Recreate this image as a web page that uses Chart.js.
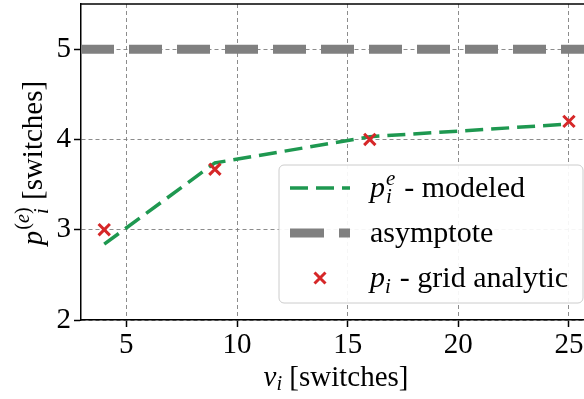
<!DOCTYPE html>
<html>
<head>
<meta charset="utf-8">
<script src="https://cdn.jsdelivr.net/npm/chart.js@4/dist/chart.umd.min.js"></script>
<style>
  html, body { margin: 0; padding: 0; background: #fff; overflow: hidden; }
  #wrap { width: 584px; height: 399px; }
</style>
</head>
<body>
<div id="wrap"><canvas id="chart" width="584" height="399"></canvas></div>
<script>
// data
const vValues = [4, 9, 16, 25];
const modeledValues = [2.84, 3.74, 4.03, 4.17];
const analyticValues = [3.0, 3.67, 4.0, 4.2];
const asymptoteValue = 5;
const xTicks = [5, 10, 15, 20, 25];
const yTicks = [2, 3, 4, 5];

const X_MIN = 2.95, X_MAX = 25.68;
const Y_MIN = 2, Y_MAX = 5.5;

const GREEN = 'rgb(30, 152, 80)';
const GREY = '#808080';
const RED = '#d62728';
const FONT = '"Liberation Serif", "Times New Roman", serif';
const TICK_SIZE = 29;
const LABEL_SIZE = 29;
const LEGEND_SIZE = 30;

// draws a string made of runs (italic / sub / superscript) like mathtext
function drawMath(ctx, parts, x, y, size, align) {
    let lastStart = 0, lastEnd = 0, total = 0;
    const placed = parts.map(p => {
        const sc = p.sc || 1;
        ctx.font = (p.it ? 'italic ' : '') + (size * sc) + 'px ' + FONT;
        const w = ctx.measureText(p.t).width;
        let start;
        if (p.stack) {
            start = lastStart;
            lastEnd = Math.max(lastEnd, start + w);
        } else {
            start = lastEnd + (p.kern || 0) * size;
            lastStart = start;
            lastEnd = start + w;
        }
        total = Math.max(total, lastEnd);
        return { p, start, font: ctx.font };
    });
    const x0 = align === 'center' ? x - total / 2 : x;
    ctx.textAlign = 'left';
    ctx.textBaseline = 'alphabetic';
    ctx.fillStyle = '#000';
    placed.forEach(item => {
        ctx.font = item.font;
        ctx.fillText(item.p.t, x0 + item.start, y + (item.p.dy || 0) * size);
    });
}

const labelsPlugin = {
    id: 'labels',
    afterDraw(chart) {
        const ctx = chart.ctx;
        const area = chart.chartArea;
        ctx.save();

        // top spine
        ctx.strokeStyle = '#000';
        ctx.lineWidth = 1.5;
        ctx.beginPath();
        ctx.moveTo(area.left, area.top);
        ctx.lineTo(area.right, area.top);
        ctx.stroke();

        // x axis title
        drawMath(ctx, [
            { t: 'v', it: true },
            { t: 'i', it: true, sc: 0.7, dy: 0.15 },
            { t: ' [switches]' }
        ], 336, 386, LABEL_SIZE, 'center');

        // y axis title (rotated)
        ctx.save();
        ctx.translate(42, (area.top + area.bottom) / 2 + 1);
        ctx.rotate(-Math.PI / 2);
        drawMath(ctx, [
            { t: 'p', it: true },
            { t: '(', sc: 0.7, dy: -0.45, kern: 0.03 },
            { t: 'e', it: true, sc: 0.7, dy: -0.45 },
            { t: ')', sc: 0.7, dy: -0.45 },
            { t: 'i', it: true, sc: 0.7, dy: 0.2, stack: true },
            { t: ' [switches]' }
        ], 0, 0, LABEL_SIZE, 'center');
        ctx.restore();

        // legend
        const bx = 279, by = 165, bw = 304, bh = 138;
        ctx.beginPath();
        ctx.roundRect(bx, by, bw, bh, 5);
        ctx.fillStyle = 'rgba(255,255,255,0.92)';
        ctx.fill();
        ctx.strokeStyle = '#cccccc';
        ctx.lineWidth = 1;
        ctx.stroke();

        const rows = [197, 242, 287];
        // green dashed sample
        ctx.setLineDash([18, 8]);
        ctx.strokeStyle = GREEN;
        ctx.lineWidth = 3.5;
        ctx.beginPath();
        ctx.moveTo(290, rows[0] - 9);
        ctx.lineTo(350, rows[0] - 9);
        ctx.stroke();
        // grey asymptote sample
        ctx.setLineDash([34, 15]);
        ctx.strokeStyle = GREY;
        ctx.lineWidth = 9;
        ctx.beginPath();
        ctx.moveTo(290, rows[1] - 9);
        ctx.lineTo(350, rows[1] - 9);
        ctx.stroke();
        ctx.setLineDash([]);
        // red cross sample
        ctx.strokeStyle = RED;
        ctx.lineWidth = 3;
        const cx = 320, cy = rows[2] - 9, r = 5.5;
        ctx.beginPath();
        ctx.moveTo(cx - r, cy - r); ctx.lineTo(cx + r, cy + r);
        ctx.moveTo(cx + r, cy - r); ctx.lineTo(cx - r, cy + r);
        ctx.stroke();

        drawMath(ctx, [
            { t: 'p', it: true },
            { t: 'e', it: true, sc: 0.7, dy: -0.4, kern: 0.03 },
            { t: 'i', it: true, sc: 0.7, dy: 0.2, stack: true },
            { t: ' - modeled', kern: 0.05 }
        ], 370, rows[0], LEGEND_SIZE, 'left');
        drawMath(ctx, [{ t: 'asymptote' }], 370, rows[1], LEGEND_SIZE, 'left');
        drawMath(ctx, [
            { t: 'p', it: true },
            { t: 'i', it: true, sc: 0.7, dy: 0.2 },
            { t: ' - grid analytic', kern: 0.05 }
        ], 370, rows[2], LEGEND_SIZE, 'left');

        ctx.restore();
    }
};

const gridOpts = {
    color: 'rgba(128,128,128,0.9)',
    lineWidth: 1,
    tickColor: '#000',
    tickWidth: 1.5,
    tickLength: 7,
    tickBorderDash: []
};

const config = {
    type: 'line',
    data: {
        datasets: [
            {
                label: 'p_i - grid analytic',
                data: vValues.map((v, i) => ({ x: v, y: analyticValues[i] })),
                showLine: false,
                pointStyle: 'crossRot',
                pointRadius: 8,
                pointBorderWidth: 3,
                borderColor: RED,
                backgroundColor: RED,
                order: 0
            },
            {
                label: 'p_i^e - modeled',
                data: vValues.map((v, i) => ({ x: v, y: modeledValues[i] })),
                borderColor: GREEN,
                borderWidth: 3.5,
                borderDash: [18, 8],
                pointRadius: 0,
                fill: false,
                tension: 0,
                order: 1
            },
            {
                label: 'asymptote',
                data: [{ x: X_MIN, y: asymptoteValue }, { x: X_MAX, y: asymptoteValue }],
                borderColor: GREY,
                borderWidth: 9,
                borderDash: [33, 15],
                borderCapStyle: 'butt',
                pointRadius: 0,
                fill: false,
                order: 2
            }
        ]
    },
    options: {
        responsive: false,
        animation: false,
        layout: { autoPadding: false, padding: { top: 4, right: 0, left: 0, bottom: 0 } },
        plugins: {
            legend: { display: false },
            tooltip: { enabled: false }
        },
        scales: {
            x: {
                type: 'linear',
                min: X_MIN,
                max: X_MAX,
                afterBuildTicks: s => { s.ticks = xTicks.map(v => ({ value: v })); },
                afterFit: s => { s.height = 79; s.paddingLeft = 0; s.paddingRight = 0; },
                ticks: {
                    color: '#000',
                    font: { family: FONT, size: TICK_SIZE },
                    padding: 1,
                    maxRotation: 0,
                    autoSkip: false
                },
                grid: gridOpts,
                border: { color: '#000', width: 1.5, dash: [4, 3] }
            },
            y: {
                type: 'linear',
                min: Y_MIN,
                max: Y_MAX,
                afterBuildTicks: s => { s.ticks = yTicks.map(v => ({ value: v })); },
                afterFit: s => { s.width = 81; s.paddingTop = 0; s.paddingBottom = 0; },
                ticks: {
                    color: '#000',
                    font: { family: FONT, size: TICK_SIZE },
                    padding: 3,
                    autoSkip: false
                },
                grid: gridOpts,
                border: { color: '#000', width: 1.5, dash: [4, 3] }
            }
        }
    },
    plugins: [labelsPlugin]
};

new Chart(document.getElementById('chart'), config);
</script>
</body>
</html>
